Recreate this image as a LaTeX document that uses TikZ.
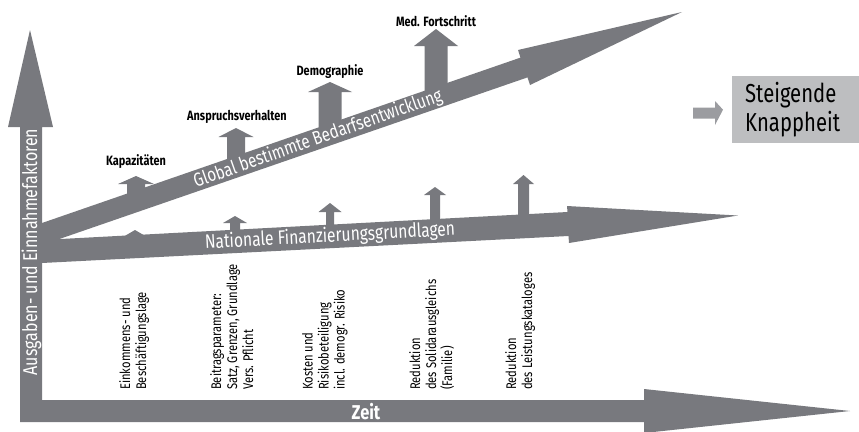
\documentclass[tikz,border=0pt]{standalone}
\usepackage{fontspec}
\setmainfont{Fira Sans}
\definecolor{bandgrey}{RGB}{120,121,126}
\definecolor{boxgrey}{RGB}{189,190,192}
\definecolor{arrgrey}{RGB}{155,156,160}
\newcommand\myup[6]{\fill[bandgrey] ({#1-#5},#6) -- ({#1-#5},#3) -- ({#1-#4},#3) -- (#1,#2) -- ({#1+#4},#3) -- ({#1+#5},#3) -- ({#1+#5},#6) -- cycle;}
\tikzset{
  bandtxt/.style={text=white,inner sep=0pt,font=\fontsize{19}{19}\selectfont},
  toplbl/.style={text=black,inner sep=0pt,xscale=0.81,font=\bfseries\fontsize{13.5}{13.5}\selectfont},
  botlbl/.style={text=black,inner sep=0pt,rotate=90,xscale=0.8,anchor=north west,align=left,font=\fontsize{14}{16}\selectfont},
}
\begin{document}
\begin{tikzpicture}[x=1pt,y=-1pt]
\useasboundingbox (0,0) rectangle (859,431);
% axes
\fill[bandgrey] (20,422) -- (20,127) -- (8,127) -- (30,30) -- (53,127) -- (42,127) -- (42,400) -- (644,400) -- (644,389) -- (850,411) -- (644,433) -- (644,422) -- cycle;
% global band
\fill[bandgrey] (42,223) -- (520.5,57.6) -- (518,50) -- (682,12) -- (530,85) -- (527.5,77.4) -- (42,245) -- cycle;
% national band
\fill[bandgrey] (42,240) -- (567.5,212) -- (567,206) -- (738,215.5) -- (569,243) -- (568.5,236) -- (42,263) -- cycle;
% small arrows on global band
\myup{136}{176}{184}{18}{9}{196}
\myup{236}{128}{137}{17.5}{9}{162}
\myup{330}{82}{92}{22}{11.5}{130}
\myup{436}{29}{46}{22}{11.5}{93}
% small arrows on national band
\myup{135}{230}{237}{12}{7}{240}
\myup{235}{216}{223}{12}{5}{235}
\myup{330}{203}{212}{11.5}{4}{230}
\myup{435}{187}{195}{11}{5}{225}
\myup{523.5}{175}{184}{10.5}{5.5}{220}
% band texts
\node[bandtxt,rotate=90,xscale=0.8,font=\fontsize{20}{20}\selectfont] (ylab) at (31.5,252) {Ausgaben- und Einnahmefaktoren};
\node[bandtxt,xscale=0.82,font=\bfseries\fontsize{20}{20}\selectfont] (zeit) at (366,412) {Zeit};
\node[bandtxt,rotate=19.4,xscale=0.8] (glob) at (318,139) {Global bestimmte Bedarfsentwicklung};
\node[bandtxt,rotate=3,xscale=0.8,font=\fontsize{19.5}{19.5}\selectfont] (nat) at (330,236.5) {Nationale Finanzierungsgrundlagen};
% top labels
\node[toplbl] (kap) at (136,162) {Kapazitäten};
\node[toplbl] (ans) at (237,117) {Anspruchsverhalten};
\node[toplbl] (dem) at (330,72) {Demographie};
\node[toplbl] (med) at (436,21) {Med. Fortschritt};
% bottom labels
\node[botlbl] (b1) at (119,390) {Einkommens- und\\Beschäftigungslage};
\node[botlbl] (b2) at (210,390) {Beitragsparameter:\\Satz, Grenzen, Grundlage\\Vers. Pflicht};
\node[botlbl] (b3) at (302,390) {Kosten und\\Risikobeteiligung\\incl. demogr. Risiko};
\node[botlbl] (b4) at (409,390) {Reduktion\\des Solidarausgleichs\\(Familie)};
\node[botlbl] (b5) at (505,390) {Reduktion\\des Leistungskataloges};
% result box
\node[fill=boxgrey,minimum width=127pt,minimum height=67pt,anchor=north west,inner sep=0pt] (kn) at (732,76) {};
\node[anchor=west,align=left,inner sep=0pt,xscale=0.78,font=\fontsize{26}{29}\selectfont] (kntxt) at (745,109.5) {Steigende\\Knappheit};
\coordinate (arrstart) at (693,113);
\fill[arrgrey] (arrstart) ++(0,-5.5) -- (715,107.5) -- (715,101) -- (kn.west -| 723,113) -- (715,125) -- (715,118.5) -- (693,118.5) -- cycle;
\end{tikzpicture}
\end{document}
